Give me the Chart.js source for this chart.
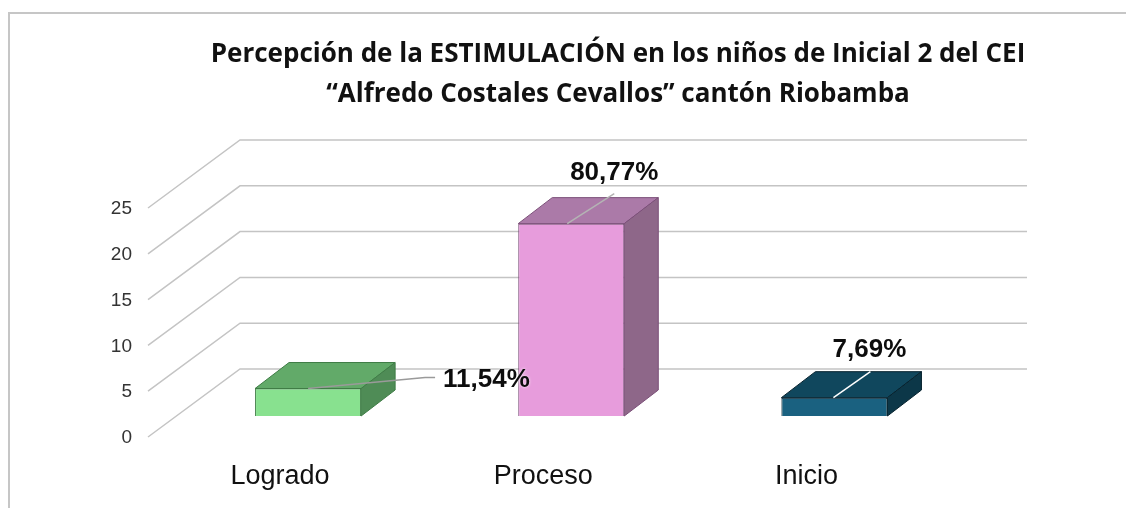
<!DOCTYPE html>
<html>
<head>
<meta charset="utf-8">
<script src="https://cdn.jsdelivr.net/npm/chart.js@4.4.1/dist/chart.umd.min.js"></script>
<style>
  html, body { margin: 0; padding: 0; background: #fff; }
  #wrap { width: 1126px; height: 508px; }
</style>
</head>
<body>
<div id="wrap"><canvas id="chart" width="1126" height="508"></canvas></div>
<script>
// data
const categories = ['Logrado', 'Proceso', 'Inicio'];
const counts = [3, 21, 2];
const percents = [11.54, 80.77, 7.69];
const yTicks = [0, 5, 10, 15, 20, 25];
const titleLines = [
    'Percepción de la ESTIMULACIÓN en los niños de Inicial 2 del CEI',
    '“Alfredo Costales Cevallos” cantón Riobamba'
];

// bar face colours
const frontColors = ['#88e18f', '#e79cdc', '#1a6180'];
const topColors = ['#62aa69', '#ab7aa8', '#10475d'];
const sideColors = ['#4f8c56', '#8e6789', '#0c3748'];
const edgeColors = ['#3f7c46', '#7b4f78', '#06222e'];
const leaderColors = ['#9a9a9a', '#b4b4b4', '#ffffff'];

// fake 3D: bar depth, and wall offsets from the bar plane
const BAR_DX = 34, BAR_DY = -26;
const BACK_DX = 63.5, BACK_DY = -47;
const FRONT_DX = -28.5, FRONT_DY = 21;

const fmtPct = v => v.toFixed(2).replace('.', ',') + '%';

// Frame and back wall grid, drawn behind the bars
const wallPlugin = {
    id: 'wall',
    beforeDraw(chart) {
        const ctx = chart.ctx;
        ctx.save();
        ctx.strokeStyle = '#c6c6c6';
        ctx.lineWidth = 2;
        ctx.beginPath();
        ctx.moveTo(9, 508);
        ctx.lineTo(9, 13);
        ctx.lineTo(1126, 13);
        ctx.stroke();
        ctx.restore();
    },
    beforeDatasetsDraw(chart) {
        const ctx = chart.ctx;
        const y = chart.scales.y;
        const area = chart.chartArea;
        ctx.save();
        ctx.strokeStyle = '#c4c4c4';
        ctx.lineWidth = 1.5;
        yTicks.forEach(v => {
            const py = y.getPixelForValue(v);
            ctx.beginPath();
            ctx.moveTo(area.left + FRONT_DX, py + FRONT_DY);
            ctx.lineTo(area.left + BACK_DX, py + BACK_DY);
            ctx.lineTo(area.right + 61, py + BACK_DY);
            ctx.stroke();
        });
        ctx.restore();
    }
};

// Top and side faces of each bar, then the leader lines and labels
const barsPlugin = {
    id: 'bars3d',
    afterDatasetsDraw(chart) {
        const ctx = chart.ctx;
        const bars = chart.getDatasetMeta(0).data;
        ctx.save();
        ctx.lineWidth = 1;
        bars.forEach((bar, i) => {
            const l = bar.x - bar.width / 2, r = bar.x + bar.width / 2;
            const t = bar.y, b = bar.base;
            ctx.strokeStyle = edgeColors[i];
            // top
            ctx.fillStyle = topColors[i];
            ctx.beginPath();
            ctx.moveTo(l, t);
            ctx.lineTo(l + BAR_DX, t + BAR_DY);
            ctx.lineTo(r + BAR_DX, t + BAR_DY);
            ctx.lineTo(r, t);
            ctx.closePath();
            ctx.fill();
            ctx.stroke();
            // side
            ctx.fillStyle = sideColors[i];
            ctx.beginPath();
            ctx.moveTo(r, t);
            ctx.lineTo(r + BAR_DX, t + BAR_DY);
            ctx.lineTo(r + BAR_DX, b + BAR_DY);
            ctx.lineTo(r, b);
            ctx.closePath();
            ctx.fill();
            ctx.stroke();
        });

        // data labels with leader lines
        const place = [
            { from: [0, 0], mid: [117, -11], to: [127, -11], text: [135, -9], align: 'left' },
            { from: [-4, 0], mid: [43, -30], to: [43, -30], text: [43, -51], align: 'center' },
            { from: [-1, 0], mid: [36, -26], to: [36, -26], text: [35, -48], align: 'center' }
        ];
        bars.forEach((bar, i) => {
            const p = place[i];
            ctx.strokeStyle = leaderColors[i];
            ctx.lineWidth = 1.5;
            ctx.beginPath();
            ctx.moveTo(bar.x + p.from[0], bar.y + p.from[1]);
            ctx.lineTo(bar.x + p.mid[0], bar.y + p.mid[1]);
            ctx.lineTo(bar.x + p.to[0], bar.y + p.to[1]);
            ctx.stroke();
            ctx.font = 'bold 26px "Liberation Sans", Arial, sans-serif';
            ctx.textAlign = p.align;
            ctx.textBaseline = 'middle';
            ctx.shadowColor = 'rgba(255,255,255,0.9)';
            ctx.shadowBlur = 3;
            ctx.fillStyle = '#0d0d0d';
            ctx.fillText(fmtPct(percents[i]), bar.x + p.text[0], bar.y + p.text[1]);
            ctx.shadowBlur = 0;
        });
        ctx.restore();
    },
    afterDraw(chart) {
        const ctx = chart.ctx;
        ctx.save();
        ctx.font = 'bold 26px "Open Sans", "Liberation Sans", Arial, sans-serif';
        ctx.fillStyle = '#111';
        ctx.textAlign = 'center';
        ctx.textBaseline = 'alphabetic';
        ctx.fillText(titleLines[0], 618, 62);
        ctx.fillText(titleLines[1], 618, 102);
        ctx.restore();
    }
};

new Chart(document.getElementById('chart'), {
    type: 'bar',
    data: {
        labels: categories,
        datasets: [{
            data: counts,
            backgroundColor: frontColors,
            borderColor: edgeColors,
            borderWidth: 1,
            barPercentage: 0.403,
            categoryPercentage: 1
        }]
    },
    options: {
        responsive: false,
        devicePixelRatio: 1,
        animation: false,
        layout: { padding: { top: 187, right: 160, bottom: 0, left: 0 } },
        plugins: {
            legend: { display: false },
            title: { display: false },
            tooltip: { enabled: false }
        },
        scales: {
            x: {
                grid: { display: false, drawTicks: false },
                border: { display: false },
                ticks: {
                    color: '#111',
                    font: { family: '"Liberation Sans", Arial, sans-serif', size: 27 },
                    padding: 44,
                    labelOffset: -28
                },
                afterFit: s => { s.height = 92; }
            },
            y: {
                min: 0,
                max: 25,
                grid: { display: false, drawTicks: false },
                border: { display: false },
                ticks: {
                    stepSize: 5,
                    color: '#333',
                    font: { family: '"Liberation Sans", Arial, sans-serif', size: 19 },
                    padding: 44.5,
                    labelOffset: 22
                },
                afterFit: s => { s.width = 176.5; }
            }
        }
    },
    plugins: [wallPlugin, barsPlugin]
});
</script>
</body>
</html>
